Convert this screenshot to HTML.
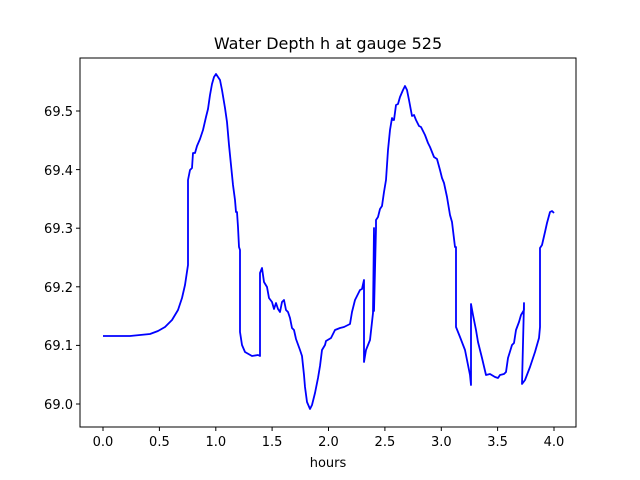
<!DOCTYPE html>
<html><head><meta charset="utf-8"><style>body{margin:0;background:#fff}svg{display:block}text{font-family:"DejaVu Sans","Liberation Sans",sans-serif;font-size:13px;fill:#000}</style></head>
<body>
<svg width="640" height="480" viewBox="0 0 640 480" xmlns="http://www.w3.org/2000/svg">
<rect width="640" height="480" fill="#fff"/>
<text x="328" y="49" text-anchor="middle" style="font-size:16px">Water Depth h at gauge 525</text>
<g stroke="#000" stroke-width="1">
<line x1="103" y1="427" x2="103" y2="431"/><line x1="159.4" y1="427" x2="159.4" y2="431"/><line x1="215.8" y1="427" x2="215.8" y2="431"/><line x1="272.1" y1="427" x2="272.1" y2="431"/><line x1="328.5" y1="427" x2="328.5" y2="431"/><line x1="384.9" y1="427" x2="384.9" y2="431"/><line x1="441.3" y1="427" x2="441.3" y2="431"/><line x1="497.6" y1="427" x2="497.6" y2="431"/><line x1="554" y1="427" x2="554" y2="431"/>
<line x1="76" y1="404" x2="80" y2="404"/><line x1="76" y1="345.4" x2="80" y2="345.4"/><line x1="76" y1="286.8" x2="80" y2="286.8"/><line x1="76" y1="228.2" x2="80" y2="228.2"/><line x1="76" y1="169.6" x2="80" y2="169.6"/><line x1="76" y1="111" x2="80" y2="111"/>
</g>
<g text-anchor="middle">
<text x="103" y="446">0.0</text><text x="159.4" y="446">0.5</text><text x="215.8" y="446">1.0</text><text x="272.1" y="446">1.5</text><text x="328.5" y="446">2.0</text><text x="384.9" y="446">2.5</text><text x="441.3" y="446">3.0</text><text x="497.6" y="446">3.5</text><text x="554" y="446">4.0</text>
<text x="328" y="467">hours</text>
</g>
<g text-anchor="end">
<text x="73" y="409">69.0</text><text x="73" y="350">69.1</text><text x="73" y="292">69.2</text><text x="73" y="233">69.3</text><text x="73" y="175">69.4</text><text x="73" y="116">69.5</text>
</g>
<polyline fill="none" stroke="#0000ff" stroke-width="1.8" stroke-linejoin="round" points="103,336 130,336 150,334 158,331 165,327 172,320 178,310 182,298 185,285 188,265 188,180 190,170 192,168 193,153 195,153 197,146 200,139 203,130 206,117 208,109 210,95 212,84 214,77 216,74 218,77 220,80 222,90 225,108 227,122 229,145 231,165 233,185 235,200 236,212 237,212 238,227 239,247 240,250 240,332 242,345 245,352 252,356 258,355 260,356 260,273 262,268 264,282 267,287 269,298 272,302 274,309 276,303 278,309 280,312 282,302 284,300 286,310 288,312 290,318 292,328 294,330 296,339 300,350 302,356 304,375 305,387 307,402 310,409 312,405 315,393 318,378 320,366 322,350 325,345 326,341 331,338 335,330 340,328 344,327 350,324 352,312 355,300 360,290 362,289 364,280 364,362 366,350 370,340 373,313 374,228 374,311 376,228 376,220 378,217 380,209 382,206 384,192 386,180 388,150 390,130 392,118 393,120 394,120 396,105 398,104 400,97 403,90 405,86 407,90 409,100 412,116 414,115 416,120 419,126 421,127 425,135 428,143 430,147 434,157 437,159 440,170 442,178 444,183 447,197 450,215 452,222 455,247 456,247 456,327 460,337 465,350 470,375 471,385 471,304 473,315 476,330 478,342 482,358 486,375 490,374 495,377 498,378 500,375 504,374 506,372 508,358 512,345 514,343 516,330 519,322 521,315 524,310 524,303 522,384 525,380 530,367 535,352 539,338 540,327 540,248 542,245 545,232 547,223 550,212 552,211 554,213"/>
<rect x="80" y="58" width="496" height="369" fill="none" stroke="#000" stroke-width="1"/>
</svg>
</body></html>
